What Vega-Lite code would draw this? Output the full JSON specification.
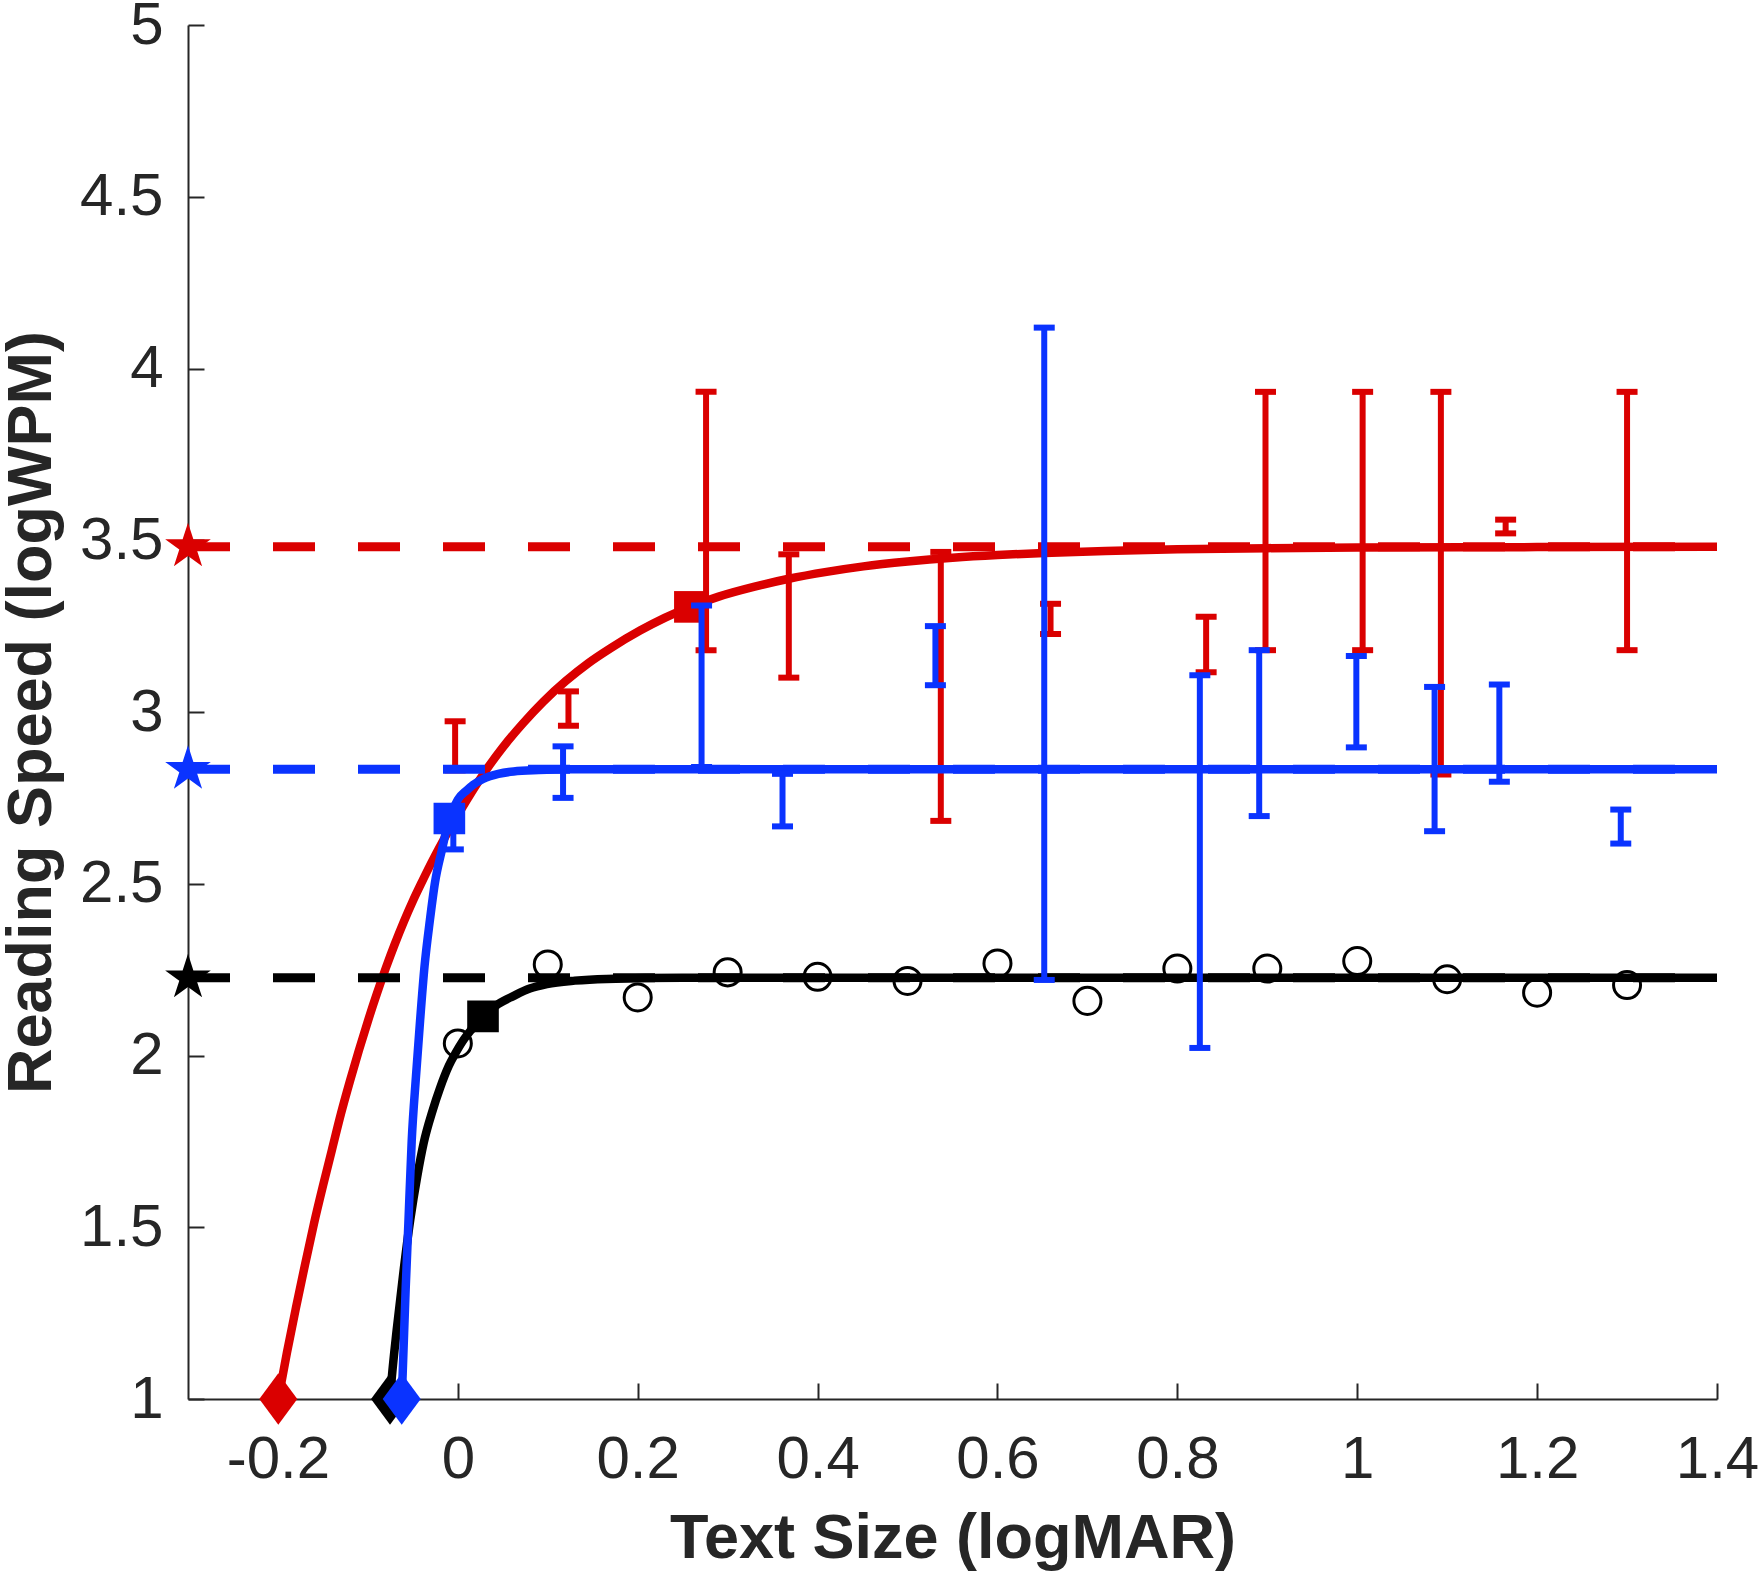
{
  "$schema": "https://vega.github.io/schema/vega-lite/v6.json",
  "width": 1529,
  "height": 1374,
  "autosize": {"type": "none"},
  "padding": {"left": 188, "top": 25, "right": 46, "bottom": 177},
  "background": "white",
  "datasets": {
    "red": [
      {"k": "lvl", "x": -0.3, "xe": 1.4, "y": 3.481},
      {"k": "fit", "x": -0.1996, "y": 1.0},
      {"k": "fit", "x": -0.19, "y": 1.135},
      {"k": "fit", "x": -0.18, "y": 1.265},
      {"k": "fit", "x": -0.17, "y": 1.39},
      {"k": "fit", "x": -0.16, "y": 1.51},
      {"k": "fit", "x": -0.15, "y": 1.62},
      {"k": "fit", "x": -0.14, "y": 1.725},
      {"k": "fit", "x": -0.13, "y": 1.83},
      {"k": "fit", "x": -0.12, "y": 1.925},
      {"k": "fit", "x": -0.11, "y": 2.015},
      {"k": "fit", "x": -0.1, "y": 2.1},
      {"k": "fit", "x": -0.09, "y": 2.18},
      {"k": "fit", "x": -0.08, "y": 2.255},
      {"k": "fit", "x": -0.07, "y": 2.325},
      {"k": "fit", "x": -0.06, "y": 2.39},
      {"k": "fit", "x": -0.05, "y": 2.45},
      {"k": "fit", "x": -0.04, "y": 2.505},
      {"k": "fit", "x": -0.03, "y": 2.558},
      {"k": "fit", "x": -0.02, "y": 2.608},
      {"k": "fit", "x": -0.01, "y": 2.655},
      {"k": "fit", "x": 0.0, "y": 2.7},
      {"k": "fit", "x": 0.015, "y": 2.765},
      {"k": "fit", "x": 0.032, "y": 2.833},
      {"k": "fit", "x": 0.05, "y": 2.897},
      {"k": "fit", "x": 0.0728, "y": 2.968},
      {"k": "fit", "x": 0.095, "y": 3.03},
      {"k": "fit", "x": 0.12, "y": 3.09},
      {"k": "fit", "x": 0.145, "y": 3.142},
      {"k": "fit", "x": 0.17, "y": 3.186},
      {"k": "fit", "x": 0.2026, "y": 3.237},
      {"k": "fit", "x": 0.23, "y": 3.274},
      {"k": "fit", "x": 0.258, "y": 3.306},
      {"k": "fit", "x": 0.29, "y": 3.336},
      {"k": "fit", "x": 0.33, "y": 3.365},
      {"k": "fit", "x": 0.368, "y": 3.388},
      {"k": "fit", "x": 0.41, "y": 3.408},
      {"k": "fit", "x": 0.451, "y": 3.424},
      {"k": "fit", "x": 0.5, "y": 3.438},
      {"k": "fit", "x": 0.55, "y": 3.449},
      {"k": "fit", "x": 0.6, "y": 3.457},
      {"k": "fit", "x": 0.652, "y": 3.463},
      {"k": "fit", "x": 0.72, "y": 3.469},
      {"k": "fit", "x": 0.8, "y": 3.474},
      {"k": "fit", "x": 0.9, "y": 3.477},
      {"k": "fit", "x": 1.0, "y": 3.479},
      {"k": "fit", "x": 1.2, "y": 3.48},
      {"k": "fit", "x": 1.4, "y": 3.481},
      {"k": "bar", "x": -0.003, "lo": 2.83, "hi": 2.973},
      {"k": "bar", "x": 0.123, "lo": 2.96, "hi": 3.06},
      {"k": "bar", "x": 0.276, "lo": 3.18, "hi": 3.932},
      {"k": "bar", "x": 0.368, "lo": 3.1, "hi": 3.459},
      {"k": "bar", "x": 0.537, "lo": 2.683, "hi": 3.466},
      {"k": "bar", "x": 0.659, "lo": 3.227, "hi": 3.315},
      {"k": "bar", "x": 0.832, "lo": 3.116, "hi": 3.277},
      {"k": "bar", "x": 0.898, "lo": 3.18, "hi": 3.932},
      {"k": "bar", "x": 1.006, "lo": 3.18, "hi": 3.932},
      {"k": "bar", "x": 1.093, "lo": 2.818, "hi": 3.932},
      {"k": "bar", "x": 1.165, "lo": 3.52, "hi": 3.56},
      {"k": "bar", "x": 1.3, "lo": 3.18, "hi": 3.932},
      {"k": "sq", "x": 0.258, "y": 3.306},
      {"k": "dia", "x": -0.1996, "y": 1.0}
    ],
    "black": [
      {"k": "lvl", "x": -0.3, "xe": 1.4, "y": 2.226},
      {"k": "fit", "x": -0.0754, "y": 1.0},
      {"k": "fit", "x": -0.0735, "y": 1.06},
      {"k": "fit", "x": -0.068, "y": 1.2},
      {"k": "fit", "x": -0.06, "y": 1.38},
      {"k": "fit", "x": -0.053, "y": 1.52},
      {"k": "fit", "x": -0.045, "y": 1.65},
      {"k": "fit", "x": -0.038, "y": 1.745},
      {"k": "fit", "x": -0.028, "y": 1.84},
      {"k": "fit", "x": -0.0198, "y": 1.905},
      {"k": "fit", "x": -0.01, "y": 1.97},
      {"k": "fit", "x": -0.003, "y": 2.005},
      {"k": "fit", "x": 0.005, "y": 2.04},
      {"k": "fit", "x": 0.015, "y": 2.075},
      {"k": "fit", "x": 0.028, "y": 2.114},
      {"k": "fit", "x": 0.045, "y": 2.15},
      {"k": "fit", "x": 0.0617, "y": 2.173},
      {"k": "fit", "x": 0.08, "y": 2.195},
      {"k": "fit", "x": 0.099, "y": 2.208},
      {"k": "fit", "x": 0.13, "y": 2.218},
      {"k": "fit", "x": 0.165, "y": 2.223},
      {"k": "fit", "x": 0.25, "y": 2.226},
      {"k": "fit", "x": 1.4, "y": 2.226},
      {"k": "pt", "x": 0.0, "y": 2.035},
      {"k": "pt", "x": 0.1, "y": 2.265},
      {"k": "pt", "x": 0.2, "y": 2.169},
      {"k": "pt", "x": 0.3, "y": 2.242},
      {"k": "pt", "x": 0.4, "y": 2.229},
      {"k": "pt", "x": 0.5, "y": 2.217},
      {"k": "pt", "x": 0.6, "y": 2.268},
      {"k": "pt", "x": 0.7, "y": 2.159},
      {"k": "pt", "x": 0.8, "y": 2.253},
      {"k": "pt", "x": 0.9, "y": 2.253},
      {"k": "pt", "x": 1.0, "y": 2.275},
      {"k": "pt", "x": 1.1, "y": 2.222},
      {"k": "pt", "x": 1.2, "y": 2.183},
      {"k": "pt", "x": 1.3, "y": 2.205},
      {"k": "sq", "x": 0.028, "y": 2.114},
      {"k": "dia", "x": -0.0754, "y": 1.0}
    ],
    "blue": [
      {"k": "lvl", "x": -0.3, "xe": 1.4, "y": 2.833},
      {"k": "fit", "x": -0.0624, "y": 1.0},
      {"k": "fit", "x": -0.0613, "y": 1.075},
      {"k": "fit", "x": -0.058, "y": 1.32},
      {"k": "fit", "x": -0.055, "y": 1.51},
      {"k": "fit", "x": -0.0513, "y": 1.75},
      {"k": "fit", "x": -0.0465, "y": 1.94},
      {"k": "fit", "x": -0.042, "y": 2.1},
      {"k": "fit", "x": -0.037, "y": 2.26},
      {"k": "fit", "x": -0.031, "y": 2.395},
      {"k": "fit", "x": -0.0253, "y": 2.505},
      {"k": "fit", "x": -0.018, "y": 2.595},
      {"k": "fit", "x": -0.0094, "y": 2.69},
      {"k": "fit", "x": 0.0, "y": 2.745},
      {"k": "fit", "x": 0.0099, "y": 2.772},
      {"k": "fit", "x": 0.017, "y": 2.788},
      {"k": "fit", "x": 0.028, "y": 2.805},
      {"k": "fit", "x": 0.045, "y": 2.82},
      {"k": "fit", "x": 0.062, "y": 2.827},
      {"k": "fit", "x": 0.09, "y": 2.831},
      {"k": "fit", "x": 0.12, "y": 2.833},
      {"k": "fit", "x": 1.4, "y": 2.833},
      {"k": "bar", "x": -0.005, "lo": 2.6, "hi": 2.69},
      {"k": "bar", "x": 0.117, "lo": 2.75, "hi": 2.9},
      {"k": "bar", "x": 0.271, "lo": 2.84, "hi": 3.31},
      {"k": "bar", "x": 0.361, "lo": 2.667, "hi": 2.82},
      {"k": "bar", "x": 0.531, "lo": 3.078, "hi": 3.25},
      {"k": "bar", "x": 0.652, "lo": 2.22, "hi": 4.119},
      {"k": "bar", "x": 0.825, "lo": 2.022, "hi": 3.107},
      {"k": "bar", "x": 0.891, "lo": 2.697, "hi": 3.18},
      {"k": "bar", "x": 0.999, "lo": 2.897, "hi": 3.163},
      {"k": "bar", "x": 1.086, "lo": 2.653, "hi": 3.073},
      {"k": "bar", "x": 1.158, "lo": 2.797, "hi": 3.08},
      {"k": "bar", "x": 1.293, "lo": 2.617, "hi": 2.716},
      {"k": "sq", "x": -0.0094, "y": 2.69},
      {"k": "dia", "x": -0.0624, "y": 1.0}
    ]
  },
  "encoding": {
    "x": {
      "field": "x",
      "type": "quantitative",
      "title": "Text Size (logMAR)",
      "scale": {"domain": [-0.3, 1.4], "nice": false, "zero": false},
      "axis": {
        "values": [-0.2, 0, 0.2, 0.4, 0.6, 0.8, 1, 1.2, 1.4],
        "labelExpr": "datum.value < 0 ? '-' + format(-datum.value, '~g') : format(datum.value, '~g')",
        "labelBaseline": "alphabetic",
        "labelPadding": 94,
        "labelFlush": false,
        "titleBaseline": "alphabetic",
        "titleY": 158
      }
    },
    "y": {
      "field": "y",
      "type": "quantitative",
      "title": "Reading Speed (logWPM)",
      "scale": {"domain": [1, 5], "nice": false, "zero": false},
      "axis": {
        "values": [1, 1.5, 2, 2.5, 3, 3.5, 4, 4.5, 5],
        "labelExpr": "format(datum.value, '~g')",
        "labelPadding": 41,
        "titleAngle": 270,
        "titleAlign": "center",
        "titleBaseline": "alphabetic",
        "titleX": -138,
        "titleY": 687
      }
    }
  },
  "layer": [
    {
      "data": {"name": "red"},
      "layer": [
        {
          "transform": [{"filter": "datum.k == 'lvl'"}],
          "mark": {"type": "rule", "color": "#DA0000", "strokeWidth": 9, "strokeDash": [42, 43], "strokeCap": "butt"},
          "encoding": {"x2": {"field": "xe"}}
        },
        {
          "transform": [{"filter": "datum.k == 'fit'"}],
          "mark": {"type": "line", "color": "#DA0000", "strokeWidth": 8.5, "interpolate": "monotone"},
          "encoding": {}
        },
        {
          "transform": [{"filter": "datum.k == 'bar'"}],
          "mark": {"type": "rule", "color": "#DA0000", "strokeWidth": 6},
          "encoding": {
            "y": {"field": "lo", "type": "quantitative", "title": "Reading Speed (logWPM)", "scale": {"domain": [1, 5], "nice": false, "zero": false}},
            "y2": {"field": "hi"}
          }
        },
        {
          "transform": [{"filter": "datum.k == 'bar'"}],
          "mark": {"type": "tick", "orient": "horizontal", "color": "#DA0000", "size": 21, "thickness": 6, "opacity": 1},
          "encoding": {
            "y": {"field": "lo", "type": "quantitative", "title": "Reading Speed (logWPM)", "scale": {"domain": [1, 5], "nice": false, "zero": false}}
          }
        },
        {
          "transform": [{"filter": "datum.k == 'bar'"}],
          "mark": {"type": "tick", "orient": "horizontal", "color": "#DA0000", "size": 21, "thickness": 6, "opacity": 1},
          "encoding": {
            "y": {"field": "hi", "type": "quantitative", "title": "Reading Speed (logWPM)", "scale": {"domain": [1, 5], "nice": false, "zero": false}}
          }
        },
        {
          "transform": [{"filter": "datum.k == 'sq'"}],
          "mark": {"type": "point", "shape": "square", "filled": true, "color": "#DA0000", "size": 1000, "opacity": 1},
          "encoding": {}
        },
        {
          "transform": [{"filter": "datum.k == 'dia'"}],
          "mark": {"type": "point", "shape": "M0,-1.35L1,0L0,1.35L-1,0Z", "filled": true, "color": "#DA0000", "size": 1444, "opacity": 1},
          "encoding": {}
        },
        {
          "transform": [{"filter": "datum.k == 'lvl'"}],
          "mark": {"type": "point", "shape": "M0,-1L0.2245,-0.309L0.951,-0.309L0.363,0.118L0.588,0.809L0,0.382L-0.588,0.809L-0.363,0.118L-0.951,-0.309L-0.2245,-0.309Z", "filled": true, "color": "#DA0000", "size": 2304, "opacity": 1},
          "encoding": {}
        }
      ]
    },
    {
      "data": {"name": "black"},
      "layer": [
        {
          "transform": [{"filter": "datum.k == 'lvl'"}],
          "mark": {"type": "rule", "color": "#000000", "strokeWidth": 9, "strokeDash": [42, 43], "strokeCap": "butt"},
          "encoding": {"x2": {"field": "xe"}}
        },
        {
          "transform": [{"filter": "datum.k == 'fit'"}],
          "mark": {"type": "line", "color": "#000000", "strokeWidth": 8.5, "interpolate": "monotone"},
          "encoding": {}
        },
        {
          "transform": [{"filter": "datum.k == 'pt'"}],
          "mark": {"type": "point", "shape": "circle", "filled": false, "color": "#000000", "strokeWidth": 3, "size": 730, "opacity": 1},
          "encoding": {}
        },
        {
          "transform": [{"filter": "datum.k == 'sq'"}],
          "mark": {"type": "point", "shape": "square", "filled": true, "color": "#000000", "size": 1000, "opacity": 1},
          "encoding": {}
        },
        {
          "transform": [{"filter": "datum.k == 'dia'"}],
          "mark": {"type": "point", "shape": "M0,-1.35L1,0L0,1.35L-1,0Z", "filled": true, "color": "#000000", "size": 1444, "opacity": 1},
          "encoding": {}
        },
        {
          "transform": [{"filter": "datum.k == 'lvl'"}],
          "mark": {"type": "point", "shape": "M0,-1L0.2245,-0.309L0.951,-0.309L0.363,0.118L0.588,0.809L0,0.382L-0.588,0.809L-0.363,0.118L-0.951,-0.309L-0.2245,-0.309Z", "filled": true, "color": "#000000", "size": 2304, "opacity": 1},
          "encoding": {}
        }
      ]
    },
    {
      "data": {"name": "blue"},
      "layer": [
        {
          "transform": [{"filter": "datum.k == 'lvl'"}],
          "mark": {"type": "rule", "color": "#0A33FF", "strokeWidth": 9, "strokeDash": [42, 43], "strokeCap": "butt"},
          "encoding": {"x2": {"field": "xe"}}
        },
        {
          "transform": [{"filter": "datum.k == 'fit'"}],
          "mark": {"type": "line", "color": "#0A33FF", "strokeWidth": 8.5, "interpolate": "monotone"},
          "encoding": {}
        },
        {
          "transform": [{"filter": "datum.k == 'bar'"}],
          "mark": {"type": "rule", "color": "#0A33FF", "strokeWidth": 6},
          "encoding": {
            "y": {"field": "lo", "type": "quantitative", "title": "Reading Speed (logWPM)", "scale": {"domain": [1, 5], "nice": false, "zero": false}},
            "y2": {"field": "hi"}
          }
        },
        {
          "transform": [{"filter": "datum.k == 'bar'"}],
          "mark": {"type": "tick", "orient": "horizontal", "color": "#0A33FF", "size": 21, "thickness": 6, "opacity": 1},
          "encoding": {
            "y": {"field": "lo", "type": "quantitative", "title": "Reading Speed (logWPM)", "scale": {"domain": [1, 5], "nice": false, "zero": false}}
          }
        },
        {
          "transform": [{"filter": "datum.k == 'bar'"}],
          "mark": {"type": "tick", "orient": "horizontal", "color": "#0A33FF", "size": 21, "thickness": 6, "opacity": 1},
          "encoding": {
            "y": {"field": "hi", "type": "quantitative", "title": "Reading Speed (logWPM)", "scale": {"domain": [1, 5], "nice": false, "zero": false}}
          }
        },
        {
          "transform": [{"filter": "datum.k == 'sq'"}],
          "mark": {"type": "point", "shape": "square", "filled": true, "color": "#0A33FF", "size": 1000, "opacity": 1},
          "encoding": {}
        },
        {
          "transform": [{"filter": "datum.k == 'dia'"}],
          "mark": {"type": "point", "shape": "M0,-1.35L1,0L0,1.35L-1,0Z", "filled": true, "color": "#0A33FF", "size": 1444, "opacity": 1},
          "encoding": {}
        },
        {
          "transform": [{"filter": "datum.k == 'lvl'"}],
          "mark": {"type": "point", "shape": "M0,-1L0.2245,-0.309L0.951,-0.309L0.363,0.118L0.588,0.809L0,0.382L-0.588,0.809L-0.363,0.118L-0.951,-0.309L-0.2245,-0.309Z", "filled": true, "color": "#0A33FF", "size": 2304, "opacity": 1},
          "encoding": {}
        }
      ]
    }
  ],
  "config": {
    "view": {"stroke": null},
    "axis": {
      "grid": false,
      "domainColor": "#262626",
      "domainWidth": 2,
      "tickColor": "#262626",
      "tickWidth": 2,
      "tickSize": -16,
      "labelFont": "Liberation Sans",
      "labelFontSize": 60,
      "labelColor": "#262626",
      "labelOverlap": false,
      "titleFont": "Liberation Sans",
      "titleFontSize": 63,
      "titleFontWeight": "bold",
      "titleColor": "#262626"
    }
  }
}
